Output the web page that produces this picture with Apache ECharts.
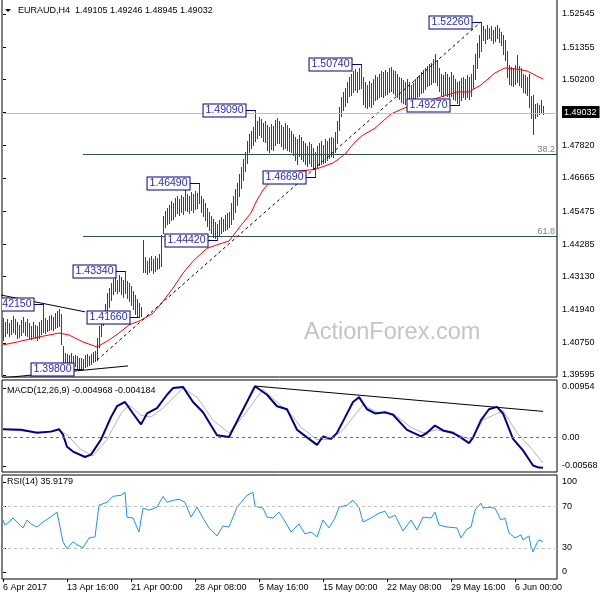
<!DOCTYPE html>
<html>
<head>
<meta charset="utf-8">
<script src="https://cdn.jsdelivr.net/npm/echarts@6/dist/echarts.min.js"></script>
<style>
html,body{margin:0;padding:0;background:#fff;}
#chart{width:600px;height:600px;}
</style>
</head>
<body>
<div id="chart"></div>
<script>
// EURAUD H4, bar 0 = 6 Apr 2017 08:00, one bar every 4h
var barHigh = [
  1.4164,1.4150,1.4160,1.4146,1.4158,1.4170,1.4162,1.4148,1.4140,1.4155,
  1.4166,1.4150,1.4160,1.4145,1.4136,1.4150,1.4140,1.4135,1.4148,1.4156,
  1.4215,1.4165,1.4158,1.4170,1.4176,1.4168,1.4182,1.4190,1.4195,1.4178,
  1.4065,1.4040,1.4035,1.4030,1.4038,1.4028,1.4033,1.4026,1.4020,1.4022,
  1.4018,1.4030,1.4035,1.4028,1.4036,1.4042,1.4045,1.4092,1.4137,1.4168,
  1.4190,1.4215,1.4255,1.4270,1.4288,1.4305,1.4310,1.4300,1.4318,1.4312,
  1.4300,1.4334,1.4296,1.4290,1.4280,1.4260,1.4245,1.4232,1.4218,1.4205,
  1.4443,1.4382,1.4370,1.4378,1.4385,1.4375,1.4388,1.4380,1.4392,1.4460,
  1.4530,1.4548,1.4560,1.4570,1.4585,1.4578,1.4595,1.4600,1.4592,1.4605,
  1.4598,1.4640,1.4610,1.4600,1.4615,1.4608,1.4620,1.4612,1.4649,1.4600,
  1.4590,1.4575,1.4560,1.4545,1.4530,1.4520,1.4510,1.4500,1.4515,1.4525,
  1.4520,1.4535,1.4540,1.4545,1.4575,1.4600,1.4625,1.4650,1.4680,1.4705,
  1.4735,1.4760,1.4800,1.4825,1.4835,1.4850,1.4909,1.4870,1.4885,1.4878,
  1.4862,1.4870,1.4855,1.4848,1.4860,1.4852,1.4875,1.4880,1.4870,1.4858,
  1.4850,1.4862,1.4855,1.4845,1.4835,1.4825,1.4812,1.4805,1.4820,1.4815,
  1.4800,1.4790,1.4782,1.4795,1.4788,1.4775,1.4760,1.4780,1.4792,1.4800,
  1.4785,1.4805,1.4798,1.4810,1.4815,1.4808,1.4830,1.4870,1.4920,1.4955,
  1.4975,1.4990,1.5010,1.5030,1.5040,1.5050,1.5058,1.5045,1.5062,1.5074,
  1.5030,1.5010,1.5000,1.5015,1.5008,1.5020,1.5035,1.5028,1.5040,1.5050,
  1.5045,1.5055,1.5048,1.5060,1.5066,1.5055,1.5050,1.5040,1.5030,1.5025,
  1.5018,1.5010,1.5020,1.5012,1.5000,1.5008,1.5020,1.5028,1.5035,1.5045,
  1.5052,1.5060,1.5068,1.5075,1.5080,1.5092,1.5112,1.5090,1.5060,1.5040,
  1.5035,1.5048,1.5040,1.5030,1.5045,1.5035,1.5020,1.5010,1.5015,1.5025,
  1.5030,1.5022,1.5035,1.5028,1.5040,1.5070,1.5110,1.5150,1.5180,1.5226,
  1.5210,1.5200,1.5215,1.5205,1.5212,1.5198,1.5208,1.5215,1.5205,1.5190,
  1.5180,1.5160,1.5120,1.5070,1.5065,1.5060,1.5070,1.5108,1.5068,1.5062,
  1.5040,1.5035,1.5030,1.5038,1.4960,1.4965,1.4930,1.4935,1.4928,1.4945,1.4925
];
var barLow = [
  1.4085,1.4098,1.4110,1.4100,1.4105,1.4115,1.4108,1.4092,1.4095,1.4102,
  1.4112,1.4104,1.4098,1.4090,1.4088,1.4096,1.4092,1.4086,1.4094,1.4108,
  1.4114,1.4110,1.4118,1.4122,1.4125,1.4120,1.4128,1.4130,1.4135,1.4072,
  1.4000,1.3992,1.3990,1.3996,1.3998,1.3988,1.3992,1.3985,1.3984,1.3982,
  1.3980,1.3988,1.3990,1.3995,1.3998,1.4005,1.4010,1.4015,1.4060,1.4100,
  1.4140,1.4160,1.4190,1.4205,1.4230,1.4250,1.4262,1.4255,1.4260,1.4250,
  1.4240,1.4252,1.4235,1.4225,1.4210,1.4195,1.4180,1.4172,1.4166,1.4170,
  1.4330,1.4328,1.4322,1.4330,1.4335,1.4326,1.4332,1.4340,1.4345,1.4350,
  1.4470,1.4490,1.4500,1.4505,1.4515,1.4520,1.4530,1.4540,1.4535,1.4545,
  1.4538,1.4550,1.4548,1.4540,1.4552,1.4545,1.4555,1.4560,1.4575,1.4545,
  1.4530,1.4515,1.4495,1.4480,1.4468,1.4455,1.4450,1.4442,1.4460,1.4470,
  1.4475,1.4478,1.4485,1.4490,1.4500,1.4520,1.4545,1.4570,1.4600,1.4630,
  1.4660,1.4690,1.4720,1.4760,1.4775,1.4785,1.4800,1.4810,1.4820,1.4815,
  1.4800,1.4795,1.4768,1.4760,1.4772,1.4765,1.4785,1.4790,1.4790,1.4780,
  1.4770,1.4775,1.4768,1.4762,1.4760,1.4750,1.4730,1.4715,1.4745,1.4735,
  1.4728,1.4715,1.4710,1.4720,1.4708,1.4700,1.4669,1.4705,1.4712,1.4718,
  1.4720,1.4725,1.4730,1.4738,1.4745,1.4740,1.4760,1.4790,1.4840,1.4890,
  1.4910,1.4925,1.4940,1.4960,1.4965,1.4975,1.4982,1.4975,1.4985,1.4990,
  1.4930,1.4920,1.4918,1.4925,1.4922,1.4930,1.4945,1.4950,1.4955,1.4960,
  1.4958,1.4965,1.4968,1.4975,1.4980,1.4972,1.4965,1.4958,1.4948,1.4940,
  1.4935,1.4932,1.4940,1.4936,1.4930,1.4938,1.4945,1.4955,1.4962,1.4970,
  1.4975,1.4985,1.4995,1.5000,1.5005,1.5010,1.5010,1.5000,1.4980,1.4965,
  1.4960,1.4968,1.4960,1.4955,1.4962,1.4950,1.4945,1.4935,1.4927,1.4945,
  1.4955,1.4950,1.4958,1.4950,1.4962,1.4990,1.5020,1.5060,1.5100,1.5120,
  1.5160,1.5150,1.5165,1.5170,1.5162,1.5150,1.5158,1.5168,1.5155,1.5145,
  1.5110,1.5090,1.5030,1.5005,1.5000,1.4995,1.5002,1.5010,1.5000,1.4992,
  1.4975,1.4970,1.4965,1.4920,1.4880,1.4825,1.4880,1.4890,1.4895,1.4900,1.4895
];

// moving average (red), read at selected bars: [bar, price]
var maPts = [
  [0,1.4067],[9,1.4081],[18,1.4096],[28,1.4110],[33,1.4103],[40,1.4078],[47,1.4060],
  [53,1.4085],[58,1.4110],[63,1.4139],[68,1.4153],[70,1.4160],[75,1.4181],[80,1.4224],
  [85,1.4271],[90,1.4325],[95,1.4368],[102,1.4414],[108,1.4429],[113,1.4440],[118,1.4487],
  [124,1.4541],[127,1.4587],[130,1.4623],[133,1.4648],[138,1.4677],[146,1.4690],[156,1.4697],
  [165,1.4720],[171,1.4752],[176,1.4795],[180,1.4820],[186,1.4845],[194,1.4896],[202,1.4921],
  [211,1.4939],[219,1.4957],[227,1.4975],[233,1.4975],[239,1.5000],[246,1.5043],[251,1.5061],
  [257,1.5057],[262,1.5050],[270,1.5021]
];

// MACD(12,26,9) main and signal: [bar, value]
var macdPts = [
  [0,0.0014],[9,0.0013],[17,0.0008],[24,0.0010],[28,0.0014],[30,0.0005],[32,-0.0015],
  [35,-0.0023],[41,-0.0032],[44,-0.0028],[49,-0.0003],[54,0.0034],[57,0.0052],[61,0.0059],
  [65,0.0040],[69,0.0022],[72,0.0040],[77,0.0049],[82,0.0071],[85,0.0082],[90,0.0084],
  [95,0.0059],[100,0.0042],[107,0.0004],[113,0.0001],[119,0.0040],[126,0.0085],[132,0.0071],
  [137,0.0052],[142,0.0047],[147,0.0013],[149,0.0008],[157,-0.0012],[160,0.0002],[164,-0.0002],
  [167,0.0008],[170,0.0027],[175,0.0059],[178,0.0067],[182,0.0047],[186,0.0040],[191,0.0042],
  [195,0.0038],[202,0.0013],[209,0.0002],[212,0.0008],[216,0.0020],[220,0.0012],[225,0.0008],
  [229,0.0000],[233,-0.0009],[235,0.0000],[239,0.0029],[243,0.0047],[247,0.0051],[250,0.0040],
  [255,-0.0002],[260,-0.0021],[265,-0.0046],[268,-0.00495],[270,-0.004968]
];
var signalPts = [
  [0,0.0014],[17,0.0009],[28,0.0012],[32,0.0005],[39,-0.0020],[45,-0.0030],[52,-0.0003],
  [59,0.0040],[63,0.0054],[69,0.0037],[74,0.0034],[80,0.0049],[90,0.0082],[97,0.0067],
  [105,0.0029],[113,0.0008],[120,0.0035],[130,0.0080],[137,0.0059],[145,0.0035],[149,0.0017],
  [157,-0.0003],[164,-0.0003],[170,0.0013],[180,0.0054],[187,0.0042],[195,0.0040],[204,0.0017],
  [210,0.0008],[217,0.0013],[227,0.0005],[234,-0.0003],[240,0.0029],[250,0.0045],[257,0.0008],
  [265,-0.0021],[270,-0.004184]
];

// RSI(14): [bar, value]
var rsiPts = [
  [0,56.7],[1,51.9],[3,54.8],[5,58.6],[7,54.8],[10,49.1],[12,56.7],[14,52.9],[17,50.0],[20,54.8],
  [23,58.6],[27,64.3],[29,45.2],[30,35.7],[32,29.1],[35,35.7],[37,32.9],[40,30.0],[43,39.5],[46,40.5],
  [48,71.0],[52,73.8],[55,79.5],[59,80.5],[61,83.3],[62,59.5],[65,58.6],[68,45.2],[70,68.1],[73,66.2],
  [77,69.0],[80,79.5],[82,73.8],[85,75.7],[88,76.7],[91,73.8],[94,59.5],[97,69.0],[100,58.6],[103,49.1],
  [107,41.4],[110,51.0],[113,50.0],[117,69.0],[122,80.5],[125,83.3],[126,70.0],[130,68.1],[132,59.5],[135,58.6],
  [138,64.3],[140,58.6],[144,45.2],[146,49.1],[148,52.9],[151,43.3],[154,45.2],[157,40.5],[160,56.7],[163,49.1],
  [166,58.6],[168,69.0],[172,71.0],[175,75.7],[178,69.0],[180,54.8],[184,58.6],[188,63.3],[191,65.2],[193,58.6],
  [196,61.4],[200,46.2],[204,56.7],[207,47.1],[210,59.5],[214,58.6],[216,64.3],[218,51.9],[222,50.0],[227,49.1],
  [229,39.5],[232,48.1],[234,50.0],[236,66.2],[239,72.9],[240,68.1],[243,69.0],[246,68.1],[249,56.7],[251,58.6],
  [253,44.3],[256,39.5],[259,42.4],[260,37.6],[263,41.4],[264,31.0],[265,26.2],[267,34.8],[268,37.6],[270,35.9]
];

// swing labels
var noteIdx = [20, 40, 61, 68, 98, 107, 126, 156, 179, 228, 239];
var notePrice = [1.4215, 1.3980, 1.4334, 1.4166, 1.4649, 1.4442, 1.4909, 1.4669, 1.5074, 1.4927, 1.5226];

// drawn lines
var trendUp = [[47, 1.4013], [239, 1.5226]];
var wedgeTop = [[-1.5, 1.4247], [41, 1.4186]];
var wedgeBottom = [[-0.5, 1.3949], [62.5, 1.3992]];
var macdTrend = [[126, 0.00854], [270, 0.00435]];
var fibNames = ['38.2', '61.8'];
var fibLevels = [1.4750, 1.4456];
var fibStart = 40;
var lastClose = 1.49032;

var priceTicks = [1.39595, 1.40750, 1.41940, 1.43130, 1.44285, 1.45475, 1.46665, 1.47820, 1.49032, 1.50200, 1.51355, 1.52545];
var timeIdx = [0, 32, 64, 96, 128, 160, 192, 224, 256];
var timeLabels = ['6 Apr 2017', '13 Apr 16:00', '21 Apr 00:00', '28 Apr 08:00', '5 May 16:00', '15 May 00:00', '22 May 08:00', '29 May 16:00', '6 Jun 00:00'];

var FONT = 'Liberation Sans';
var barColor = '#1e4d5c';

var chart = echarts.init(document.getElementById('chart'));

function renderBar(params, api) {
  var lo = api.coord([api.value(0), api.value(1)]);
  var hi = api.coord([api.value(0), api.value(2)]);
  var x = Math.round(lo[0]) + 0.5;
  return {
    type: 'line',
    shape: {x1: x, y1: Math.round(hi[1]), x2: x, y2: Math.round(lo[1]) + 1},
    style: {stroke: barColor, lineWidth: 1}
  };
}

function renderNote(params, api) {
  var pt = api.coord([api.value(0), api.value(1)]);
  var y = Math.round(pt[1]) + 0.5;
  var px = Math.round(pt[0]) + 0.5;
  var bx = px - 10;
  return {
    type: 'group',
    children: [
      {type: 'line', shape: {x1: bx, y1: y, x2: px, y2: y}, style: {stroke: '#000080', lineWidth: 1}},
      {type: 'text', x: bx, y: y, style: {
        text: api.value(1).toFixed(5), align: 'right', verticalAlign: 'middle',
        textAlign: 'right', textVerticalAlign: 'middle',
        fill: '#2a2ab4', font: '10.5px "' + FONT + '"',
        backgroundColor: '#fff', borderColor: '#000080', borderWidth: 1, padding: [1, 2, 0, 2]
      }}
    ]
  };
}

var hidden = {
  axisLine: {show: false}, axisTick: {show: false}, axisLabel: {show: false}, splitLine: {show: false}
};
function xAxisFor(g, withLabels) {
  var a = {gridIndex: g, type: 'value', min: -0.5, max: 277,
    axisLine: {show: false}, splitLine: {show: false}, axisTick: {show: false}, axisLabel: {show: false}};
  if (withLabels) {
    a.axisTick = {show: true, customValues: timeIdx, length: 3, lineStyle: {color: '#000'}};
    a.axisLabel = {show: true, customValues: timeIdx, align: 'left', margin: 4,
      fontSize: 9, fontFamily: FONT, color: '#000',
      formatter: function (v) { var k = timeIdx.indexOf(Math.round(v)); return k < 0 ? '' : timeLabels[k]; }};
  }
  return a;
}

var gridBase = {left: 2, right: 43, show: true, borderColor: '#000', borderWidth: 1, outerBoundsMode: 'none', containLabel: false};

chart.setOption({
  animation: false,
  backgroundColor: '#fff',
  grid: [
    Object.assign({top: -1, height: 378}, gridBase),
    Object.assign({top: 380, height: 92}, gridBase),
    Object.assign({top: 475, height: 104}, gridBase)
  ],
  xAxis: [xAxisFor(0, false), xAxisFor(1, false), xAxisFor(2, true)],
  yAxis: [
    {gridIndex: 0, type: 'value', position: 'right', min: 1.39523, max: 1.530832,
      axisLine: {show: false}, splitLine: {show: false},
      axisTick: {show: true, customValues: priceTicks, length: 3, lineStyle: {color: '#000'}},
      axisLabel: {customValues: priceTicks, margin: 5, fontSize: 9, fontFamily: FONT, color: '#000',
        formatter: function (v) {
          var s = v.toFixed(5);
          return Math.abs(v - lastClose) < 1e-6 ? '{cur|' + s + '}' : s;
        },
        rich: {cur: {backgroundColor: '#000', color: '#fff', padding: [2, 3, 1, 2], fontSize: 9, fontFamily: FONT}}
      }
    },
    {gridIndex: 1, type: 'value', position: 'right', min: -0.00568, max: 0.00954,
      axisLine: {show: false}, splitLine: {show: false},
      axisTick: {show: true, customValues: [-0.00469, 0, 0.00822], length: 3, lineStyle: {color: '#000'}},
      axisLabel: {customValues: [-0.00568, 0, 0.00954], margin: 5, fontSize: 9, fontFamily: FONT, color: '#000',
        formatter: function (v) {
          if (v > 0.009) return '{t|0.00954}';
          if (v < -0.005) return '{b|-0.00568}';
          return '0.00';
        },
        rich: {t: {padding: [14, 0, 0, 0], fontSize: 9, fontFamily: FONT, color: '#000'},
               b: {padding: [0, 0, 12, 0], fontSize: 9, fontFamily: FONT, color: '#000'}}
      }
    },
    {gridIndex: 2, type: 'value', position: 'right', min: 0, max: 100,
      axisLine: {show: false}, splitLine: {show: false},
      axisTick: {show: true, customValues: [6.5, 30, 70, 93.5], length: 3, lineStyle: {color: '#000'}},
      axisLabel: {customValues: [0, 30, 70, 100], margin: 5, fontSize: 9, fontFamily: FONT, color: '#000',
        formatter: function (v) {
          if (v === 100) return '{t|100}';
          if (v === 0) return '{b|0}';
          return String(v);
        },
        rich: {t: {padding: [13, 0, 0, 0], fontSize: 9, fontFamily: FONT, color: '#000'},
               b: {padding: [0, 0, 14, 0], fontSize: 9, fontFamily: FONT, color: '#000'}}
      }
    }
  ],
  graphic: [
    {type: 'polygon', shape: {points: [[5, 9], [11, 9], [8, 12]]}, style: {fill: '#000'}},
    {type: 'text', x: 18, y: 11, style: {text: 'EURAUD,H4  1.49105 1.49246 1.48945 1.49032',
      font: '9px "' + FONT + '"', fill: '#000', verticalAlign: 'middle', textVerticalAlign: 'middle'}},
    {type: 'text', x: 7, y: 391, style: {text: 'MACD(12,26,9) -0.004968 -0.004184',
      font: '9px "' + FONT + '"', fill: '#000', verticalAlign: 'middle', textVerticalAlign: 'middle'}},
    {type: 'text', x: 7, y: 482, style: {text: 'RSI(14) 35.9179',
      font: '9px "' + FONT + '"', fill: '#000', verticalAlign: 'middle', textVerticalAlign: 'middle'}},
    {type: 'text', x: 304, y: 333, z: -1, style: {text: 'ActionForex.com',
      font: '23.5px "' + FONT + '"', fill: '#c4c4c4', verticalAlign: 'middle', textVerticalAlign: 'middle'}}
  ],
  series: [
    {
      name: 'levels', type: 'line', xAxisIndex: 0, yAxisIndex: 0, data: [], symbol: 'none',
      markLine: {
        silent: true, symbol: 'none', animation: false,
        data: [
          {yAxis: lastClose, lineStyle: {color: '#c0c0c0', type: 'solid', width: 1}, label: {show: false}},
          [{coord: [fibStart, fibLevels[0]], name: fibNames[0]}, {coord: [277, fibLevels[0]]}],
          [{coord: [fibStart, fibLevels[1]], name: fibNames[1]}, {coord: [277, fibLevels[1]]}]
        ],
        lineStyle: {color: '#2f4f4f', type: 'solid', width: 1},
        label: {show: true, position: 'insideEndTop', formatter: '{b}', color: '#808080',
          fontSize: 9, fontFamily: FONT, distance: [2, 1]}
      }
    },
    {
      name: 'bars', type: 'custom', xAxisIndex: 0, yAxisIndex: 0, z: 3,
      renderItem: renderBar,
      data: barHigh.map(function (h, i) { return [i, barLow[i], h]; })
    },
    {name: 'MA', type: 'line', xAxisIndex: 0, yAxisIndex: 0, z: 4, data: maPts, symbol: 'none',
      lineStyle: {color: '#ff0000', width: 1}},
    {name: 'trend', type: 'line', xAxisIndex: 0, yAxisIndex: 0, z: 4, data: trendUp, symbol: 'none',
      lineStyle: {color: '#000', width: 1, type: [3, 3]}},
    {name: 'wedgeTop', type: 'line', xAxisIndex: 0, yAxisIndex: 0, z: 4, data: wedgeTop, symbol: 'none',
      lineStyle: {color: '#000', width: 1}},
    {name: 'wedgeBottom', type: 'line', xAxisIndex: 0, yAxisIndex: 0, z: 4, data: wedgeBottom, symbol: 'none',
      lineStyle: {color: '#000', width: 1}},
    {
      name: 'notes', type: 'custom', xAxisIndex: 0, yAxisIndex: 0, z: 10, clip: true,
      renderItem: renderNote,
      data: noteIdx.map(function (i, k) { return [i, notePrice[k]]; })
    },
    {name: 'signal', type: 'line', xAxisIndex: 1, yAxisIndex: 1, data: signalPts, symbol: 'none',
      lineStyle: {color: '#b4b4b4', width: 1},
      markLine: {silent: true, symbol: 'none', data: [{yAxis: 0}], label: {show: false},
        lineStyle: {color: '#6e6e6e', type: [3, 3], width: 1}}},
    {name: 'MACD', type: 'line', xAxisIndex: 1, yAxisIndex: 1, data: macdPts, symbol: 'none',
      lineStyle: {color: '#00008b', width: 2}},
    {name: 'macdTrend', type: 'line', xAxisIndex: 1, yAxisIndex: 1, data: macdTrend, symbol: 'none',
      lineStyle: {color: '#000', width: 1}},
    {name: 'RSI', type: 'line', xAxisIndex: 2, yAxisIndex: 2, data: rsiPts, symbol: 'none',
      lineStyle: {color: '#1e90ff', width: 1},
      markLine: {silent: true, symbol: 'none', data: [{yAxis: 70}, {yAxis: 30}], label: {show: false},
        lineStyle: {color: '#c0c0c0', type: [3, 3], width: 1}}}
  ]
});
</script>
</body>
</html>
